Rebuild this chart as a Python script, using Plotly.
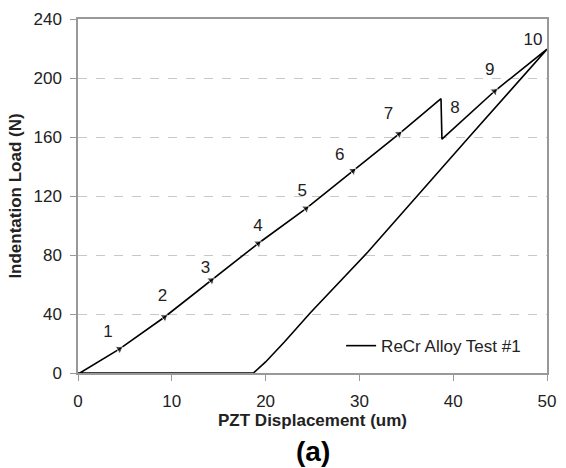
import plotly.graph_objects as go

# Loading path (PZT displacement um, load N)
load_x = [0.2, 4.4, 9.2, 14.2, 19.2, 24.3, 29.3, 34.2, 38.7, 38.8, 44.4, 50.0]
load_y = [0.0, 16.2, 37.8, 62.8, 87.8, 111.5, 137.0, 162.0, 186.0, 158.5, 191.0, 219.5]
# Unloading path
unload_x = [50.0, 41.7, 30.9, 24.8, 22.0, 20.0, 18.7, 0.0]
unload_y = [219.5, 160.0, 82.0, 41.0, 21.0, 7.5, 0.0, 0.0]
# Arrow positions along the loading path
arrow_x = [4.4, 9.2, 14.2, 19.2, 24.3, 29.3, 34.2, 44.4]
arrow_y = [16.2, 37.8, 62.8, 87.8, 111.5, 137.0, 162.0, 191.0]
# Step labels
label_text = ["1", "2", "3", "4", "5", "6", "7", "8", "9", "10"]
label_x = [3.2, 9.0, 13.6, 19.2, 23.9, 27.9, 33.1, 40.2, 43.9, 48.5]
label_y = [27, 52, 71, 99, 123, 147, 175, 179, 205, 225]

x_ticks = [0, 10, 20, 30, 40, 50]
y_ticks = [0, 40, 80, 120, 160, 200, 240]

FONT = "Liberation Sans, Arial"

fig = go.Figure()
fig.add_trace(go.Scatter(
    x=load_x + unload_x[1:], y=load_y + unload_y[1:], mode="lines",
    line=dict(color="black", width=1.6), name="ReCr Alloy Test #1",
    showlegend=True,
))
# arrowheads: each oriented along the direction from the previous curve point
ax, ay = [], []
for x, y in zip(arrow_x, arrow_y):
    i = load_x.index(x)
    px, py = load_x[i - 1], load_y[i - 1]
    t = 0.05
    ax += [x - t * (x - px), x, None]
    ay += [y - t * (y - py), y, None]
fig.add_trace(go.Scatter(
    x=ax, y=ay, mode="markers", showlegend=False, hoverinfo="skip",
    marker=dict(symbol="triangle-up", angleref="previous", color="black",
                size=[0, 8, 0] * len(arrow_x)),
))
fig.add_trace(go.Scatter(
    x=label_x, y=label_y, mode="text", text=label_text, showlegend=False,
    hoverinfo="skip",
    textfont=dict(family=FONT, size=17, color="#222"),
))

fig.add_annotation(text="<b>(a)</b>", xref="paper", yref="paper", x=0.502, y=-0.2225,
                   xanchor="center", yanchor="middle", showarrow=False,
                   font=dict(family=FONT, size=28, color="black"))

fig.update_layout(
    width=566, height=468,
    margin=dict(l=78, r=10, t=18, b=95),
    paper_bgcolor="white", plot_bgcolor="white",
    font=dict(family=FONT, size=17, color="#222"),
    legend=dict(x=0.561, y=0.076, xanchor="left", yanchor="middle",
                bgcolor="rgba(0,0,0,0)", font=dict(size=17, color="#222")),
    xaxis=dict(range=[0, 50], tickvals=x_ticks, showgrid=False, zeroline=False,
               showline=True, linecolor="#999", linewidth=1.5, mirror=True,
               ticks="outside", ticklen=6, tickcolor="#999", ticklabelstandoff=6,
               title=dict(text="<b>PZT Displacement (um)</b>", standoff=2,
                          font=dict(size=17, color="#222"))),
    yaxis=dict(range=[0, 240], tickvals=y_ticks, showgrid=True, gridcolor="#c8c8c8",
               griddash="dash", gridwidth=1, zeroline=False,
               showline=True, linecolor="#999", linewidth=1.5, mirror=True,
               ticks="outside", ticklen=6, tickcolor="#999", ticklabelstandoff=5,
               title=dict(text="<b>Indentation Load (N)</b>", standoff=8,
                          font=dict(size=17, color="#222"))),
)

fig.write_html("out.html")
